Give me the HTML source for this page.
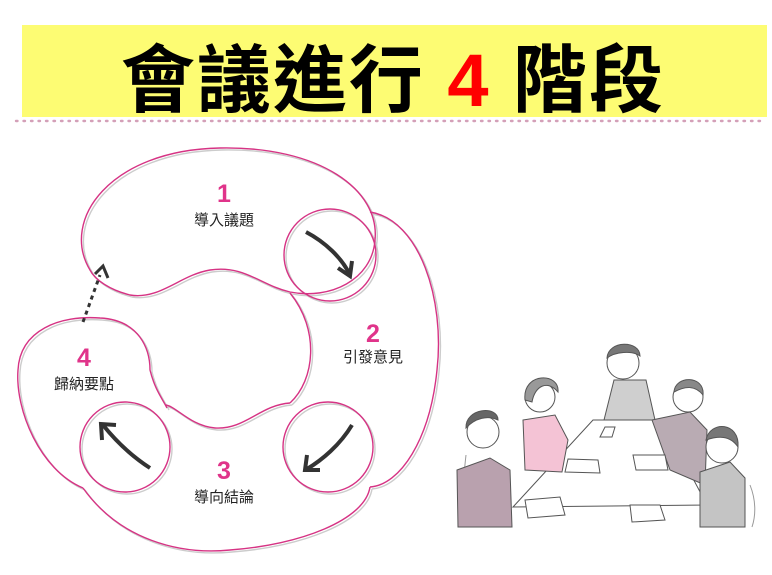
<!DOCTYPE html>
<html><head><meta charset="utf-8"><style>
body{margin:0;width:772px;height:575px;background:#fff;overflow:hidden;font-family:"Liberation Sans","Noto Sans CJK TC",sans-serif}
</style></head><body>
<svg width="772" height="575" xmlns="http://www.w3.org/2000/svg" style="position:absolute;left:0;top:0">
<rect x="22" y="25" width="745" height="92" fill="#fdfc73"/>
<text x="393" y="106" text-anchor="middle" font-family="Liberation Sans,Noto Sans CJK TC,sans-serif" font-weight="bold" font-size="74" fill="#000" letter-spacing="2">會議進行 <tspan fill="#f00">4</tspan> 階段</text>
<line x1="16" y1="121" x2="764" y2="121" stroke="#d4a0b8" stroke-width="2.4" stroke-dasharray="1.5 6" stroke-linecap="round"/>
<g fill="none" stroke-width="1.4">
<g stroke="#ccc" transform="translate(2,2)">
<path d="M90,270 C60,220 110,150 220,148 C320,146 380,190 375,240 C372,280 330,300 290,292 C260,285 245,265 210,270 C180,275 160,300 130,295 C110,290 95,280 90,270Z"/>
<path d="M370,212 C420,220 445,300 437,370 C430,440 400,485 370,487 M290,403 C315,380 320,330 290,293"/>
<path d="M83,488 C120,540 180,555 230,550 C300,545 365,520 370,487 M290,403 C260,405 245,430 215,428 C190,426 175,405 165,405"/>
<path d="M83,488 C40,470 15,410 18,370 C20,330 60,315 100,318 C140,320 150,350 150,370 C155,390 162,398 167,408"/>
<circle cx="330" cy="255" r="46"/><circle cx="328" cy="447" r="45"/><circle cx="125" cy="447" r="45"/>
</g>
<g stroke="#d63384">
<path d="M90,270 C60,220 110,150 220,148 C320,146 380,190 375,240 C372,280 330,300 290,292 C260,285 245,265 210,270 C180,275 160,300 130,295 C110,290 95,280 90,270Z"/>
<path d="M370,212 C420,220 445,300 437,370 C430,440 400,485 370,487 M290,403 C315,380 320,330 290,293"/>
<path d="M83,488 C120,540 180,555 230,550 C300,545 365,520 370,487 M290,403 C260,405 245,430 215,428 C190,426 175,405 165,405"/>
<path d="M83,488 C40,470 15,410 18,370 C20,330 60,315 100,318 C140,320 150,350 150,370 C155,390 162,398 167,408"/>
<circle cx="330" cy="255" r="46"/><circle cx="328" cy="447" r="45"/><circle cx="125" cy="447" r="45"/>
</g>
<g stroke="#333" stroke-width="4">
<path d="M306,232 C325,242 342,258 350,275"/><path d="M338,268 L350,276 L352,261"/>
<path d="M352,425 C340,445 322,460 307,469"/><path d="M307,455 L305,470 L320,470"/>
<path d="M150,468 C130,455 115,440 103,425"/><path d="M102,440 L101,424 L116,425"/>
<path d="M83,322 L100,275" stroke-dasharray="4 4" stroke-width="3"/><path d="M95,274 L103,266 L108,278" stroke-width="3"/>
</g>
</g>
<g font-family="Liberation Sans,Noto Sans CJK TC,sans-serif" text-anchor="middle">
<g fill="#e0348a" font-weight="bold" font-size="25"><text x="224" y="202">1</text><text x="373" y="342">2</text><text x="224" y="479">3</text><text x="84" y="366">4</text></g>
<g fill="#222" font-size="15"><text x="224" y="225">導入議題</text><text x="373" y="362">引發意見</text><text x="224" y="502">導向結論</text><text x="84" y="389">歸納要點</text></g>
</g>
<g stroke="#555" stroke-width="1">
<path d="M466,455 C462,490 462,515 466,527" fill="none" stroke="#999"/>
<path d="M750,485 C756,500 756,515 752,527" fill="none" stroke="#999"/>
<path d="M614,380 L646,380 L655,420 L604,420Z" fill="#cfcfcf"/>
<circle cx="623" cy="363" r="16" fill="#fff"/><path d="M607,358 C608,340 640,340 640,356 C632,350 615,352 607,358Z" fill="#777"/>
<path d="M593,420 L662,420 L707,505 L513,507Z" fill="#fff"/>
<path d="M652,420 L690,412 L707,430 L705,485 L670,470Z" fill="#b9abb3"/>
<circle cx="688" cy="397" r="15" fill="#fff"/><path d="M674,392 C675,375 705,375 703,395 C695,385 685,386 674,392Z" fill="#888"/>
<path d="M523,420 L555,415 L568,440 L562,472 L525,470Z" fill="#f4c3d5"/>
<circle cx="540" cy="397" r="15" fill="#fff"/><path d="M525,400 C522,372 560,372 558,392 C548,380 535,385 532,402Z" fill="#999"/>
<path d="M457,470 L490,458 L510,470 L512,527 L458,527Z" fill="#b9a1ae"/>
<circle cx="483" cy="432" r="16" fill="#fff"/><path d="M466,428 C465,408 498,405 498,420 C488,415 475,418 466,428Z" fill="#666"/>
<path d="M700,472 L730,462 L745,478 L745,527 L700,527Z" fill="#c4c4c4"/>
<circle cx="722" cy="447" r="16" fill="#fff"/><path d="M706,440 C710,420 740,422 738,447 C730,435 718,436 706,440Z" fill="#777"/>
<path d="M633,455 L665,455 L668,470 L636,470Z M568,459 L598,460 L600,473 L565,472Z M525,500 L560,497 L565,515 L528,518Z M630,505 L660,505 L665,520 L632,522Z M605,427 L615,427 L612,437 L600,437Z" fill="#fff"/>
</g>
</svg>
</body></html>
